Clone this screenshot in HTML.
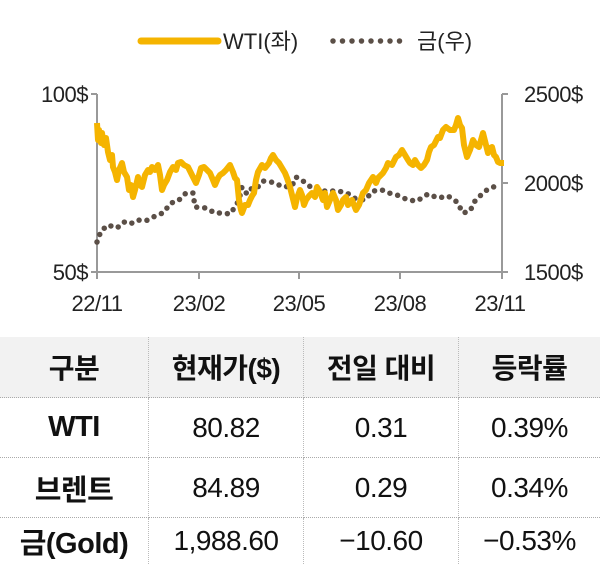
<!DOCTYPE html>
<html><head><meta charset="utf-8"><style>
body{margin:0;width:600px;height:561px;background:#fff;overflow:hidden;font-family:"Liberation Sans","Noto Sans CJK KR",sans-serif;}
table{position:absolute;left:0;top:337px;width:600px;border-collapse:collapse;}
td{height:59px;text-align:center;font-size:28px;color:#111;border-bottom:1px dotted #aaa;border-right:1px dotted #bbb;padding:0;letter-spacing:-0.5px}
td:last-child{border-right:none}
tr.h td{background:#f2f2f2;font-weight:bold;height:60px}
td.b{font-weight:bold;font-size:29px}
tr:last-child td{border-bottom:none;height:46px}
</style></head><body>
<svg width="600" height="337" style="position:absolute;left:0;top:0" font-family="Liberation Sans, Noto Sans CJK KR, sans-serif">
<line x1="141" y1="41" x2="218" y2="41" stroke="#f5b400" stroke-width="7" stroke-linecap="round"/>
<text x="223" y="49" font-size="22" fill="#222">WTI(좌)</text>
<line x1="333" y1="41" x2="405" y2="41" stroke="#5b4f47" stroke-width="5.5" stroke-linecap="round" stroke-dasharray="0 9.5"/>
<text x="417" y="49" font-size="22" fill="#222">금(우)</text>
<g stroke="#999" stroke-width="2" fill="none">
<line x1="97" y1="94" x2="97" y2="272"/><line x1="502" y1="94" x2="502" y2="272"/>
<line x1="97" y1="272" x2="502" y2="272"/>
<line x1="91" y1="94" x2="97" y2="94"/><line x1="91" y1="272" x2="97" y2="272"/>
<line x1="502" y1="94" x2="508" y2="94"/><line x1="502" y1="183" x2="508" y2="183"/><line x1="502" y1="272" x2="508" y2="272"/>
<line x1="97" y1="272" x2="97" y2="279"/><line x1="199" y1="272" x2="199" y2="279"/><line x1="299" y1="272" x2="299" y2="279"/><line x1="400" y1="272" x2="400" y2="279"/><line x1="502" y1="272" x2="502" y2="279"/>
</g>
<g font-size="22" fill="#222" letter-spacing="-0.5">
<text x="88" y="102" text-anchor="end">100$</text>
<text x="88" y="280" text-anchor="end">50$</text>
<text x="524" y="102">2500$</text>
<text x="524" y="191">2000$</text>
<text x="524" y="280">1500$</text>
<g text-anchor="middle"><text x="97" y="311">22/11</text><text x="199" y="311">23/02</text><text x="299" y="311">23/05</text><text x="400" y="311">23/08</text><text x="500" y="311">23/11</text></g>
</g>
<polyline fill="none" stroke="#5b4f47" stroke-width="5.5" stroke-linecap="round" stroke-dasharray="0 8" points="97,242 101,231 108,225 117,228 124,222 130,224 138,220 144,221 148,220 157,215 163,213 171,203 178,201 186,193 193,193 195,207 206,208 215,213 223,213 230,214 235,207 239,200 242,187 247,194 252,188 257,188 263,181 271,182 275,183 283,187 292,186 296,177 303,181 312,188 317,190 325,191 332,191 338,191 347,193 356,199 365,200 373,191 382,190 389,193 397,195 408,200 417,201 428,194 438,198 448,196 457,202 463,213 470,211 475,201 481,195 488,189 496,186"/>
<polyline fill="none" stroke="#f5b400" stroke-width="6" stroke-linejoin="round" points="97,123 98,140 99,130 101,143 102,133 104,145 106,138 108,152 110,160 112,155 113,167 115,172 117,180 119,170 122,163 124,172 127,177 129,190 131,185 133,197 135,190 138,177 140,185 142,187 145,175 148,170 150,172 152,167 155,170 158,165 160,175 162,190 164,185 167,180 170,172 173,167 176,170 178,163 181,162 184,165 188,167 192,175 196,183 199,175 201,168 204,167 207,170 210,173 213,180 215,185 218,178 220,175 223,173 226,170 230,165 233,172 235,178 237,180 239,200 241,210 242,213 245,205 248,205 250,200 252,196 254,193 256,180 258,172 262,165 265,168 269,163 271,158 273,155 276,160 279,163 282,168 285,173 287,178 290,187 292,195 295,207 297,198 300,190 302,195 304,205 306,200 309,196 312,193 315,197 317,187 320,192 323,200 325,193 327,207 330,200 333,193 336,200 338,210 341,205 343,200 346,197 348,205 352,200 356,210 359,205 363,193 366,190 369,183 373,177 376,183 378,178 383,173 386,168 388,163 392,165 396,157 399,155 402,150 405,155 408,160 410,163 413,165 415,160 418,165 421,168 424,165 427,160 429,152 431,147 434,145 438,137 440,138 443,130 446,127 450,130 454,130 456,125 458,118 460,125 462,128 464,145 467,157 470,150 473,140 476,145 479,147 481,140 483,133 486,145 488,153 490,148 492,147 494,155 496,157 498,162 500,163 504,163"/>
</svg>
<table>
<tr class="h"><td style="width:148px">구분</td><td style="width:154px">현재가($)</td><td style="width:154px">전일 대비</td><td>등락률</td></tr>
<tr><td class="b">WTI</td><td>80.82</td><td>0.31</td><td>0.39%</td></tr>
<tr><td class="b">브렌트</td><td>84.89</td><td>0.29</td><td>0.34%</td></tr>
<tr><td class="b">금(Gold)</td><td>1,988.60</td><td>−10.60</td><td>−0.53%</td></tr>
</table>
</body></html>
